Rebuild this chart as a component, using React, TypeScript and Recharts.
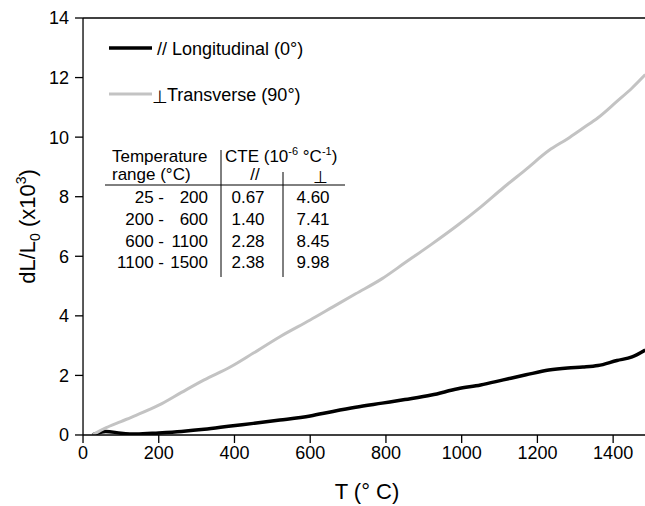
import React from 'react';
import { LineChart, Line, XAxis, YAxis, Legend } from 'recharts';

// temperature (°C) and dL/L0 (x10^3)
const temps = [25, 60, 100, 140, 200, 260, 320, 390, 450, 520, 600, 660, 720, 790, 850, 920, 990, 1050, 1110, 1170, 1230, 1280, 1320, 1360, 1410, 1450, 1485];
const longitudinal = [0, 0.12, 0.06, 0.03, 0.07, 0.12, 0.19, 0.3, 0.39, 0.5, 0.64, 0.79, 0.93, 1.07, 1.19, 1.34, 1.55, 1.68, 1.85, 2.02, 2.18, 2.25, 2.28, 2.33, 2.5, 2.62, 2.85];
const transverse = [0, 0.24, 0.45, 0.66, 1.0, 1.43, 1.85, 2.29, 2.75, 3.3, 3.86, 4.3, 4.74, 5.25, 5.78, 6.4, 7.05, 7.65, 8.3, 8.92, 9.55, 9.95, 10.3, 10.65, 11.2, 11.65, 12.1];

const xMajor = [0, 200, 400, 600, 800, 1000, 1200, 1400];
const xMinor = [100, 300, 500, 700, 900, 1100, 1300, 1500];
const yMajor = [0, 2, 4, 6, 8, 10, 12, 14];
const yMinor = [1, 3, 5, 7, 9, 11, 13];

// CTE table
const rangeStart = ['25', '200', '600', '1100'];
const rangeEnd = ['200', '600', '1100', '1500'];
const cteParallel = ['0.67', '1.40', '2.28', '2.38'];
const ctePerp = ['4.60', '7.41', '8.45', '9.98'];

const legendMarks = ['', '⊥'];

const GRAY = '#c3c3c3';
const FONT = '"Liberation Sans", Arial, Helvetica, sans-serif';
const THIN = 0.01; // axes need a non-zero size to be drawn

const data = temps.map((t, i) => ({ t, lon: longitudinal[i], tra: transverse[i] }));

const XTitle = (props: any) => {
  const vb = props.viewBox;
  return (
    <text x={vb.x + vb.width / 2} y={499} textAnchor="middle" fontSize={22} fill="#000">
      T (° C)
    </text>
  );
};

const YTitle = (props: any) => {
  const vb = props.viewBox;
  const cy = vb.y + vb.height / 2;
  return (
    <text x={35} y={cy} transform={`rotate(-90, 35, ${cy})`} textAnchor="middle" fontSize={22} fill="#000">
      dL/L<tspan fontSize={14} dy={5}>0</tspan>
      <tspan dy={-5}> (x10</tspan>
      <tspan fontSize={14} dy={-9}>3</tspan>
      <tspan dy={9}>)</tspan>
    </text>
  );
};

const LegendBox = ({ payload }: any) => (
  <svg width={260} height={84} style={{ display: 'block' }}>
    {(payload || []).map((p: any, i: number) => {
      const y = 18 + i * 46;
      return (
        <g key={p.value}>
          <line x1={9} y1={y} x2={52} y2={y} stroke={p.color} strokeWidth={i === 0 ? 3.5 : 3} />
          {legendMarks[i] && (
            <text x={52} y={y + 9} fontSize={18} fill="#000">{legendMarks[i]}</text>
          )}
          <text x={legendMarks[i] ? 67 : 57} y={y + 7} fontSize={18} fill="#000">{p.value}</text>
        </g>
      );
    })}
  </svg>
);

const CteTable = () => (
  <svg width={645} height={506} style={{ position: 'absolute', left: 0, top: 0, pointerEvents: 'none', fontFamily: FONT }}>
    <g fontSize={17} fill="#000">
      <text x={112} y={162}>Temperature</text>
      <text x={112} y={180}>range (°C)</text>
      <text x={225} y={162}>
        CTE (10<tspan fontSize={11} dy={-7}>-6</tspan>
        <tspan dy={7}> °C</tspan>
        <tspan fontSize={11} dy={-7}>-1</tspan>
        <tspan dy={7}>)</tspan>
      </text>
      <text x={255} y={180} textAnchor="middle">//</text>
      <text x={320} y={183} textAnchor="middle">⊥</text>
      {rangeStart.map((s, i) => {
        const y = 203 + i * 21.8;
        return (
          <g key={s}>
            <text x={164} y={y} textAnchor="end">{s} -</text>
            <text x={208} y={y} textAnchor="end">{rangeEnd[i]}</text>
            <text x={248} y={y} textAnchor="middle">{cteParallel[i]}</text>
            <text x={313} y={y} textAnchor="middle">{ctePerp[i]}</text>
          </g>
        );
      })}
    </g>
    <line x1={105} y1={185} x2={345} y2={185} stroke="#000" strokeWidth={1} />
    <line x1={221} y1={150} x2={221} y2={277} stroke="#000" strokeWidth={1} />
    <line x1={283} y1={172} x2={283} y2={277} stroke="#000" strokeWidth={1} />
  </svg>
);

export default function App() {
  const axisStroke = { stroke: '#000', strokeWidth: 1.3 };
  return (
    <div style={{ position: 'absolute', left: 0, top: 0, width: 645, height: 506, overflow: 'hidden', background: '#fff', fontFamily: FONT }}>
      <LineChart width={670} height={506} data={data} margin={{ top: 18, right: 19, bottom: 71, left: 83 }}>
        <XAxis xAxisId="xm" type="number" dataKey="t" domain={[0, 1500]} allowDataOverflow ticks={xMinor} interval={0}
          tickSize={5} tick={false} axisLine={false} height={THIN} tickLine={axisStroke} />
        <XAxis xAxisId="x" type="number" dataKey="t" domain={[0, 1500]} allowDataOverflow ticks={xMajor} interval={0}
          tickSize={8} tickMargin={3} height={THIN} axisLine={axisStroke} tickLine={axisStroke}
          tick={{ fill: '#000', fontSize: 18 }} label={XTitle} />
        <XAxis xAxisId="top" orientation="top" mirror type="number" dataKey="t" domain={[0, 1500]} allowDataOverflow
          ticks={xMajor} interval={0} tickSize={9} tick={false} height={THIN} axisLine={axisStroke} tickLine={axisStroke} />
        <XAxis xAxisId="topm" orientation="top" mirror type="number" dataKey="t" domain={[0, 1500]} allowDataOverflow
          ticks={xMinor} interval={0} tickSize={5} tick={false} height={THIN} axisLine={false} tickLine={axisStroke} />

        <YAxis yAxisId="ym" type="number" domain={[0, 14]} allowDataOverflow ticks={yMinor} interval={0}
          tickSize={5} tick={false} axisLine={false} width={THIN} tickLine={axisStroke} />
        <YAxis yAxisId="y" type="number" domain={[0, 14]} allowDataOverflow ticks={yMajor} interval={0}
          tickSize={8} tickMargin={6} width={THIN} axisLine={axisStroke} tickLine={axisStroke}
          tick={{ fill: '#000', fontSize: 18 }} label={YTitle} />
        <YAxis yAxisId="r" orientation="right" mirror type="number" domain={[0, 14]} allowDataOverflow ticks={yMajor}
          interval={0} tickSize={8} tick={false} width={THIN} axisLine={axisStroke} tickLine={axisStroke} />
        <YAxis yAxisId="rm" orientation="right" mirror type="number" domain={[0, 14]} allowDataOverflow ticks={yMinor}
          interval={0} tickSize={4} tick={false} width={THIN} axisLine={false} tickLine={axisStroke} />

        <Legend layout="horizontal" verticalAlign="middle" align="center" content={LegendBox}
          wrapperStyle={{ left: 100, top: 30, width: 260, height: 84 }} />

        <Line xAxisId="x" yAxisId="y" type="monotone" dataKey="lon" name="// Longitudinal (0°)" stroke="#000"
          strokeWidth={3.5} dot={false} isAnimationActive={false} />
        <Line xAxisId="x" yAxisId="y" type="monotone" dataKey="tra" name="Transverse (90°)" stroke={GRAY}
          strokeWidth={3} dot={false} isAnimationActive={false} />
      </LineChart>
      <CteTable />
    </div>
  );
}
